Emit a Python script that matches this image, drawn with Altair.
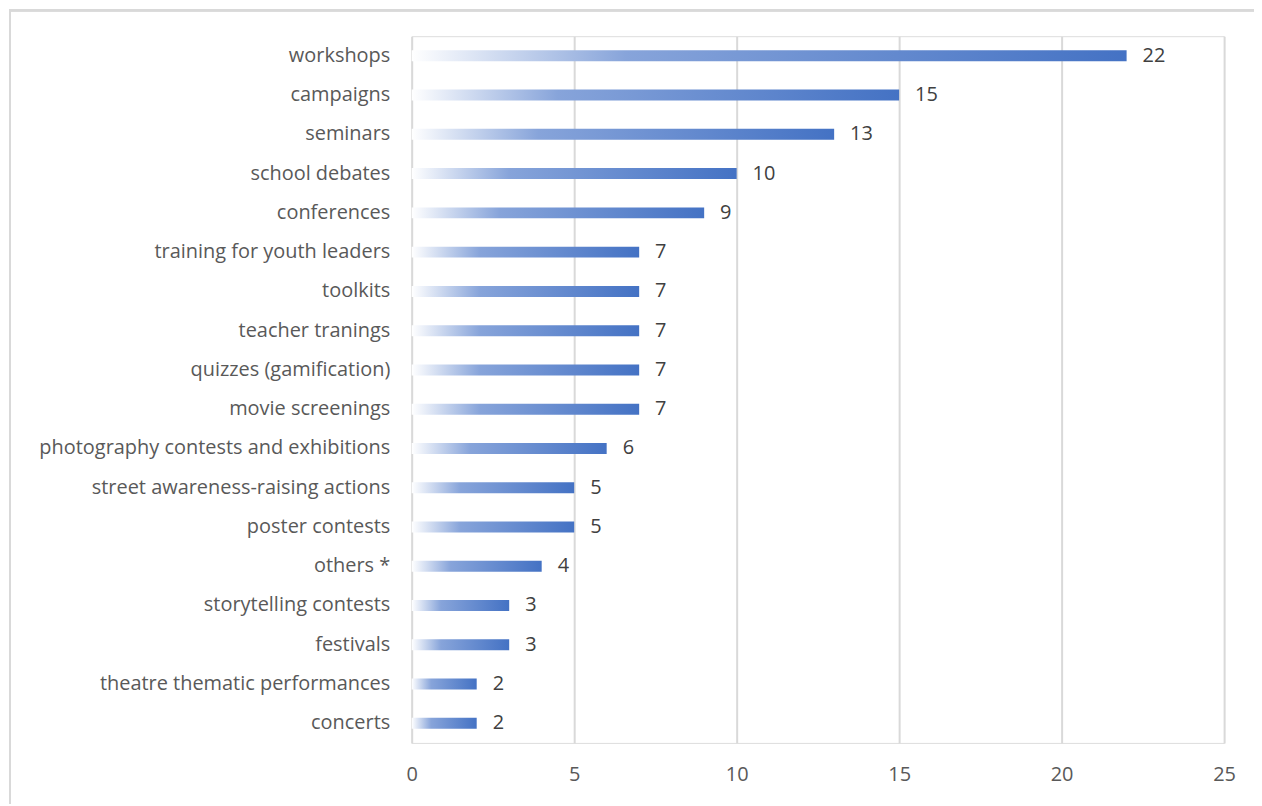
import altair as alt
import pandas as pd

categories = [
    "workshops", "campaigns", "seminars", "school debates", "conferences",
    "training for youth leaders", "toolkits", "teacher tranings",
    "quizzes (gamification)", "movie screenings",
    "photography contests and exhibitions", "street awareness-raising actions",
    "poster contests", "others *", "storytelling contests", "festivals",
    "theatre thematic performances", "concerts",
]
values = [22, 15, 13, 10, 9, 7, 7, 7, 7, 7, 6, 5, 5, 4, 3, 3, 2, 2]
x_ticks = [0, 5, 10, 15, 20, 25]

df = pd.DataFrame({"category": categories, "value": values})

FONT = "Open Sans"
FS = 20
TXT = "#595959"
W, H = 815, 709

grad = alt.Gradient(
    gradient="linear",
    stops=[
        alt.GradientStop(color="#ffffff", offset=0),
        alt.GradientStop(color="#87a4da", offset=0.3),
        alt.GradientStop(color="#4472c4", offset=1),
    ],
    x1=0, x2=1, y1=0, y2=0,
)

y_enc = alt.Y("category:N", sort=categories, title=None,
              scale=alt.Scale(paddingInner=0, paddingOuter=0),
              axis=alt.Axis(labelFont=FONT, labelFontSize=FS, labelColor=TXT,
                            labelLimit=600,
                            ticks=False, domain=False, labelPadding=22, grid=False))
x_enc = alt.X("value:Q", title=None,
              scale=alt.Scale(domain=[0, 25], nice=False),
              axis=alt.Axis(values=x_ticks, labelFont=FONT, labelFontSize=FS,
                            labelColor=TXT, ticks=False, domain=False,
                            labelFlush=False,
                            grid=True, gridColor="#d9d9d9", gridWidth=2,
                            labelPadding=22))

bars = alt.Chart(df).mark_bar(size=11, fill=grad).encode(x=x_enc, y=y_enc)

labels = alt.Chart(df).mark_text(align="left", dx=16, font=FONT, fontSize=FS,
                                 color="#404040").encode(
    x="value:Q", y=alt.Y("category:N", sort=categories), text="value:Q")

border_top = alt.Chart(df).mark_rule(color="#d9d9d9", strokeWidth=2).encode(
    x=alt.value(-404), x2=alt.value(W + 60), y=alt.value(-26))
border_left = alt.Chart(df).mark_rule(color="#d9d9d9", strokeWidth=2).encode(
    x=alt.value(-403), y=alt.value(-27), y2=alt.value(H + 80))

chart = alt.layer(border_top, border_left, bars, labels).properties(
    width=W, height=H,
    padding={"left": 405, "top": 27, "right": 30, "bottom": 60},
    autosize=alt.AutoSizeParams(type="none"),
).configure_view(stroke=None).configure(background="white")

chart.save("out.html", embed_options={"renderer": "svg", "actions": False})
